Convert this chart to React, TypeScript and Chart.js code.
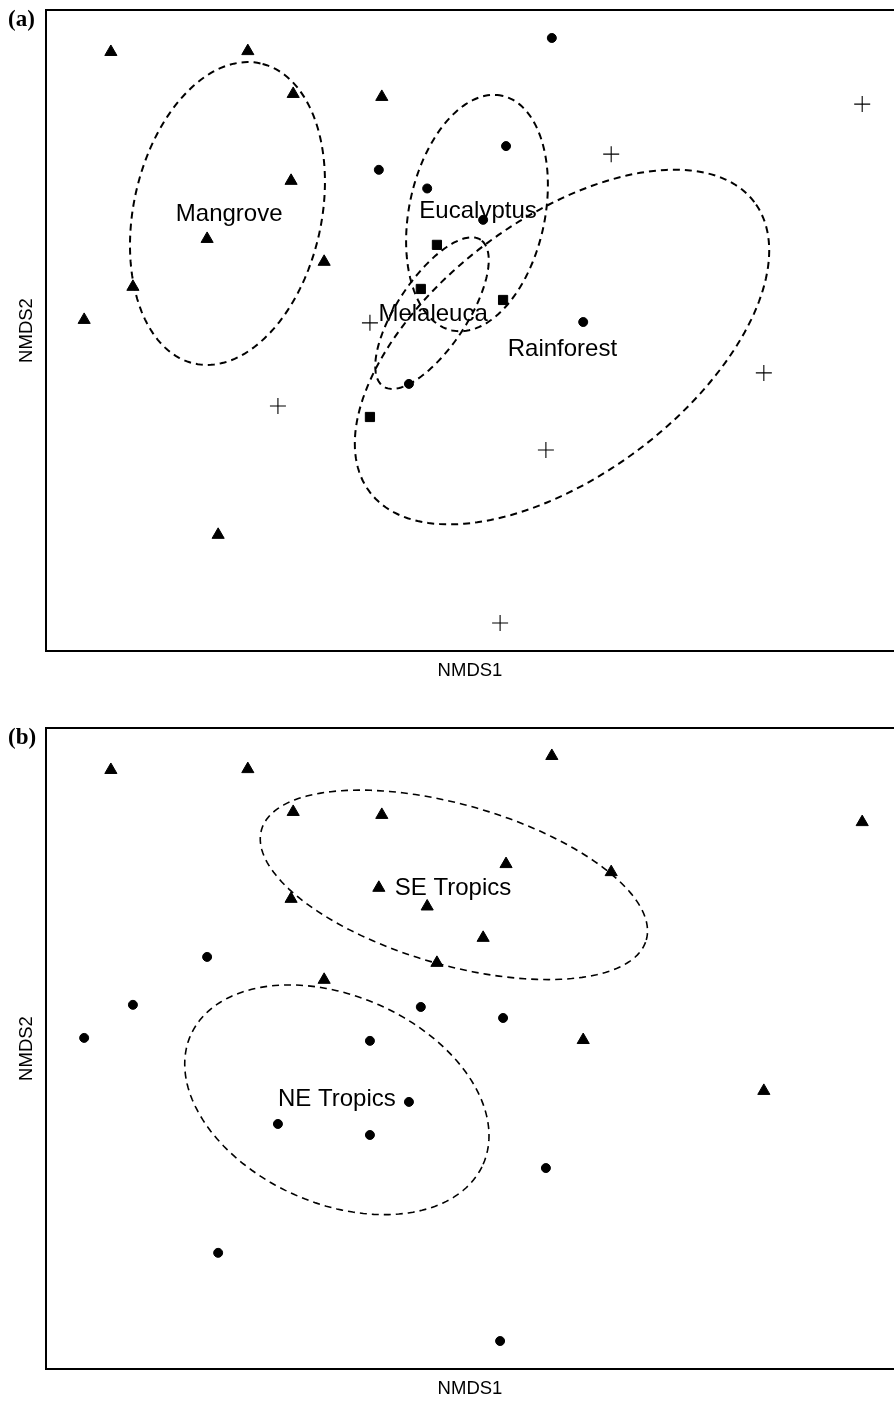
import React, { useEffect, useRef } from "react";
import { Chart, registerables } from "chart.js";

Chart.register(...registerables);

// ---- Site scores (NMDS ordination) ----
const nmds1 = [
  -0.847, -0.524, -0.417, -0.208, -0.422, -0.62, -0.795, -0.344, -0.91, -0.594,
  0.193, 0.085, -0.215, -0.101, 0.031, 0.267, -0.144,
  -0.078, -0.116, 0.078, -0.236,
  0.925, 0.333, -0.236, -0.453, 0.693, 0.179, 0.071,
];
const nmds2 = [
  0.657, 0.659, 0.558, 0.551, 0.353, 0.216, 0.103, 0.162, 0.025, -0.482,
  0.69, 0.435, 0.379, 0.335, 0.261, 0.02, -0.126,
  0.202, 0.098, 0.072, -0.204,
  0.534, 0.416, 0.018, -0.178, -0.1, -0.282, -0.69,
];
const vegetation = [
  "Mangrove", "Mangrove", "Mangrove", "Mangrove", "Mangrove", "Mangrove", "Mangrove", "Mangrove", "Mangrove", "Mangrove",
  "Eucalyptus", "Eucalyptus", "Eucalyptus", "Eucalyptus", "Eucalyptus", "Eucalyptus", "Eucalyptus",
  "Melaleuca", "Melaleuca", "Melaleuca", "Melaleuca",
  "Rainforest", "Rainforest", "Rainforest", "Rainforest", "Rainforest", "Rainforest", "Rainforest",
];
const region = [
  "SE", "SE", "SE", "SE", "SE", "NE", "NE", "SE", "NE", "NE",
  "SE", "SE", "SE", "SE", "SE", "SE", "NE",
  "SE", "NE", "NE", "NE",
  "SE", "SE", "NE", "NE", "SE", "NE", "NE",
];

// ---- Groups ----
const vegGroups = ["Mangrove", "Eucalyptus", "Melaleuca", "Rainforest"];
const vegStyles = ["triangle", "circle", "rect", "cross"];
const regionGroups = ["SE", "NE"];
const regionStyles = ["triangle", "circle"];

// ---- Dispersion ellipses (data units) ----
const vegEllipseCx = [-0.572, 0.0165, -0.0896, 0.217];
const vegEllipseCy = [0.276, 0.277, 0.041, -0.039];
const vegEllipseA = [0.3625, 0.283, 0.2075, 0.568];
const vegEllipseB = [0.2215, 0.16, 0.0825, 0.302];
const vegEllipseAngle = [77.6, 78, 56.4, 37];

const regionEllipseCx = [-0.038, -0.314];
const regionEllipseCy = [0.386, -0.121];
const regionEllipseA = [0.472, 0.377];
const regionEllipseB = [0.189, 0.245];
const regionEllipseAngle = [-16, -23.8];

// ---- Group labels ----
const vegLabels = ["Mangrove", "Eucalyptus", "Melaleuca", "Rainforest"];
const vegLabelX = [-0.568, 0.019, -0.087, 0.218];
const vegLabelY = [0.274, 0.282, 0.039, -0.044];
const regionLabels = ["SE Tropics", "NE Tropics"];
const regionLabelX = [-0.04, -0.314];
const regionLabelY = [0.378, -0.119];

const SANS = "'Liberation Sans', Arial, Helvetica, sans-serif";
const SERIF = "'Liberation Serif', 'Times New Roman', serif";

type Ell = { cx: number[]; cy: number[]; a: number[]; b: number[]; ang: number[] };

function makeOverlay(
  panel: string,
  ell: Ell,
  labels: string[],
  lx: number[],
  ly: number[],
  lineWidth: number
) {
  return {
    id: "overlay_" + panel,
    afterDatasetsDraw(chart: any) {
      const ctx = chart.ctx as CanvasRenderingContext2D;
      const xs = chart.scales.x;
      const ys = chart.scales.y;
      const area = chart.chartArea;
      ctx.save();
      // top frame line
      ctx.strokeStyle = "#000";
      ctx.lineWidth = 2;
      ctx.setLineDash([]);
      ctx.beginPath();
      ctx.moveTo(area.left - 1, area.top);
      ctx.lineTo(area.right, area.top);
      ctx.stroke();
      // ellipses
      ctx.lineWidth = lineWidth;
      ctx.setLineDash([7, 5]);
      const N = 180;
      for (let i = 0; i < ell.cx.length; i++) {
        const phi = (ell.ang[i] * Math.PI) / 180;
        ctx.beginPath();
        for (let k = 0; k <= N; k++) {
          const t = (k / N) * Math.PI * 2;
          const X = ell.cx[i] + ell.a[i] * Math.cos(t) * Math.cos(phi) - ell.b[i] * Math.sin(t) * Math.sin(phi);
          const Y = ell.cy[i] + ell.a[i] * Math.cos(t) * Math.sin(phi) + ell.b[i] * Math.sin(t) * Math.cos(phi);
          const px = xs.getPixelForValue(X);
          const py = ys.getPixelForValue(Y);
          if (k === 0) ctx.moveTo(px, py);
          else ctx.lineTo(px, py);
        }
        ctx.stroke();
      }
      ctx.setLineDash([]);
      // labels
      ctx.fillStyle = "#000";
      ctx.font = "24px " + SANS;
      ctx.textAlign = "center";
      ctx.textBaseline = "middle";
      for (let i = 0; i < labels.length; i++) {
        ctx.fillText(labels[i], xs.getPixelForValue(lx[i]), ys.getPixelForValue(ly[i]));
      }
      // panel letter
      ctx.font = "bold 23px " + SERIF;
      ctx.textAlign = "left";
      ctx.fillText("(" + panel + ")", 8, 20);
      ctx.restore();
    },
  };
}

function buildDatasets(groups: string[], styles: string[], key: string[]) {
  return groups.map((g, gi) => {
    const pts: { x: number; y: number }[] = [];
    for (let i = 0; i < nmds1.length; i++) {
      if (key[i] === g) pts.push({ x: nmds1[i], y: nmds2[i] });
    }
    const st = styles[gi];
    const isCross = st === "cross";
    return {
      label: g,
      data: pts,
      pointStyle: st,
      pointRadius: isCross ? 8 : st === "triangle" ? 7 : st === "rect" ? 6.5 : 4.5,
      pointBackgroundColor: "#000",
      pointBorderColor: "#000",
      pointBorderWidth: isCross ? 1.1 : 1,
      showLine: false,
    };
  });
}

function makeConfig(datasets: any[], overlay: any, titleBottomPad: number, xHeight: number) {
  return {
    type: "scatter",
    data: { datasets },
    options: {
      responsive: false,
      animation: false,
      devicePixelRatio: 1,
      layout: { autoPadding: false, padding: { top: 10, left: 0, right: 0, bottom: 0 } },
      plugins: { legend: { display: false }, tooltip: { enabled: false } },
      scales: {
        x: {
          type: "linear",
          min: -1,
          max: 1,
          ticks: { display: false },
          grid: { display: false },
          border: { display: true, color: "#000", width: 2 },
          title: {
            display: true,
            text: "NMDS1",
            color: "#000",
            font: { family: SANS, size: 18.5 },
            padding: { top: 0, bottom: titleBottomPad },
          },
          afterFit(s: any) {
            s.height = xHeight;
          },
        },
        y: {
          type: "linear",
          min: -0.756,
          max: 0.756,
          ticks: { display: false },
          grid: { display: false },
          border: { display: true, color: "#000", width: 2 },
          title: {
            display: true,
            text: "NMDS2",
            color: "#000",
            font: { family: SANS, size: 18.5 },
            padding: { top: 16, bottom: 0 },
          },
          afterFit(s: any) {
            s.width = 46;
          },
        },
      },
    },
    plugins: [overlay],
  } as any;
}

export default function App() {
  const refA = useRef<HTMLCanvasElement | null>(null);
  const refB = useRef<HTMLCanvasElement | null>(null);

  useEffect(() => {
    document.body.style.margin = "0";
    const overlayA = makeOverlay(
      "a",
      { cx: vegEllipseCx, cy: vegEllipseCy, a: vegEllipseA, b: vegEllipseB, ang: vegEllipseAngle },
      vegLabels,
      vegLabelX,
      vegLabelY,
      2
    );
    const overlayB = makeOverlay(
      "b",
      { cx: regionEllipseCx, cy: regionEllipseCy, a: regionEllipseA, b: regionEllipseB, ang: regionEllipseAngle },
      regionLabels,
      regionLabelX,
      regionLabelY,
      1.6
    );
    const chartA = new Chart(
      refA.current as HTMLCanvasElement,
      makeConfig(buildDatasets(vegGroups, vegStyles, vegetation), overlayA, 36, 67)
    );
    const chartB = new Chart(
      refB.current as HTMLCanvasElement,
      makeConfig(buildDatasets(regionGroups, regionStyles, region), overlayB, 1, 32)
    );
    return () => {
      chartA.destroy();
      chartB.destroy();
    };
  }, []);

  return (
    <div style={{ width: 894, height: 1401, background: "#fff", overflow: "hidden" }}>
      <canvas ref={refA} width={894} height={718} style={{ display: "block", width: 894, height: 718 }} />
      <canvas ref={refB} width={894} height={683} style={{ display: "block", width: 894, height: 683 }} />
    </div>
  );
}
